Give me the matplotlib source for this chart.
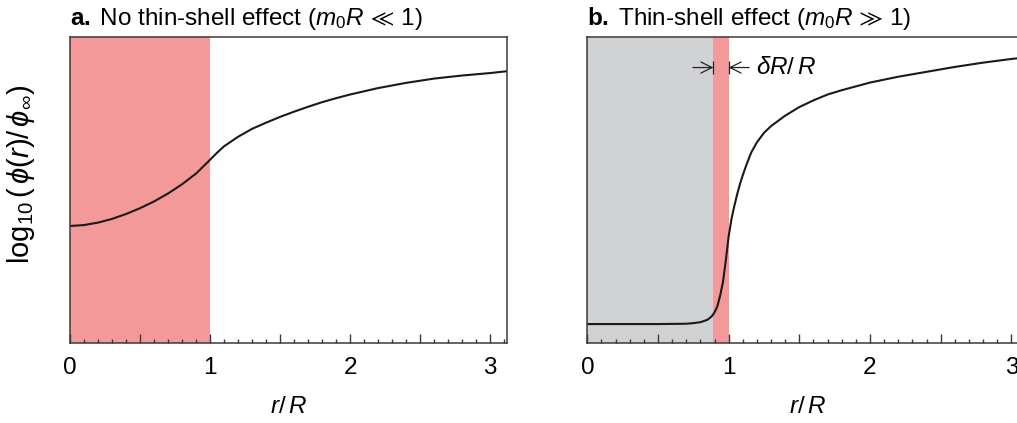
import matplotlib
matplotlib.use("Agg")
import matplotlib.pyplot as plt
from matplotlib.ticker import MultipleLocator, FuncFormatter

plt.rcParams['font.family'] = ['Liberation Sans', 'DejaVu Sans']
plt.rcParams['mathtext.fontset'] = 'custom'
plt.rcParams['mathtext.rm'] = 'Liberation Sans'
plt.rcParams['mathtext.it'] = 'Liberation Sans:italic'
plt.rcParams['mathtext.bf'] = 'Liberation Sans:bold'
plt.rcParams['mathtext.fallback'] = 'stixsans'

# values (y in axis fraction, r in units of R)
r_a = [0.0, 0.1, 0.2, 0.3, 0.4, 0.5, 0.6, 0.7, 0.8, 0.9, 1.0, 1.05, 1.1,
       1.2, 1.3, 1.4, 1.5, 1.6, 1.7, 1.8, 1.9, 2.0, 2.2, 2.4, 2.6, 2.8,
       3.0, 3.12]
phi_a = [0.382, 0.385, 0.393, 0.405, 0.421, 0.440, 0.462, 0.488, 0.518,
         0.553, 0.598, 0.621, 0.642, 0.673, 0.699, 0.719, 0.738, 0.755,
         0.771, 0.786, 0.799, 0.811, 0.832, 0.849, 0.863, 0.873, 0.881, 0.887]

r_b = [0.0, 0.5, 0.7, 0.75, 0.8, 0.85, 0.88, 0.9, 0.92, 0.94, 0.96, 0.98,
       1.0, 1.02, 1.04, 1.06, 1.08, 1.1, 1.13, 1.16, 1.2, 1.25, 1.3, 1.4,
       1.5, 1.6, 1.7, 1.8, 2.0, 2.2, 2.4, 2.6, 2.8, 3.0, 3.12]
phi_b = [0.062, 0.062, 0.063, 0.065, 0.068, 0.076, 0.087, 0.100, 0.120,
         0.155, 0.200, 0.270, 0.348, 0.405, 0.447, 0.485, 0.519, 0.548,
         0.587, 0.622, 0.655, 0.686, 0.708, 0.742, 0.770, 0.792, 0.811,
         0.825, 0.850, 0.869, 0.885, 0.901, 0.915, 0.927, 0.933]

shell_in = 0.892   # inner edge of the thin shell
pink = '#f4999a'
grey = '#d1d2d4'
spine_col = '#3a3a3a'
fs = 17.5

fig = plt.figure(figsize=(10.17, 4.23), dpi=100)
ax1 = fig.add_axes([0.0688, 0.189, 0.4297, 0.7245])
ax2 = fig.add_axes([0.5775, 0.189, 0.4336, 0.7245])

def style(ax):
    ax.set_xlim(0, 3.12)
    ax.set_ylim(0, 1)
    ax.set_yticks([])
    ax.xaxis.set_major_locator(MultipleLocator(0.5))
    ax.xaxis.set_minor_locator(MultipleLocator(0.1))
    ax.xaxis.set_major_formatter(FuncFormatter(
        lambda v, p: '%d' % round(v) if abs(v - round(v)) < 1e-6 else ''))
    ax.tick_params(axis='x', which='both', direction='in', color=spine_col,
                   labelsize=fs, pad=10)
    ax.tick_params(axis='x', which='major', length=6.5, width=1.0)
    ax.tick_params(axis='x', which='minor', length=3, width=1.0)
    for s in ax.spines.values():
        s.set_color(spine_col)
        s.set_linewidth(1.1)
    ax.set_xlabel(r'$r/\,R$', fontsize=fs, labelpad=12)

style(ax1)
style(ax2)

ax1.axvspan(0, 1, color=pink, lw=0, zorder=0)
ax1.plot(r_a, phi_a, color='#1a1a1a', lw=1.5)

ax2.axvspan(0, shell_in, color=grey, lw=0, zorder=0)
ax2.axvspan(shell_in, 1, color=pink, lw=0, zorder=0)
ax2.plot(r_b, phi_b, color='#1a1a1a', lw=1.5)

# thickness marker
ya = 0.899
arrow = dict(arrowstyle='->, head_length=0.5, head_width=0.25', color='#222222',
             lw=0.9, shrinkA=0, shrinkB=0, mutation_scale=16)
ax2.annotate('', xy=(shell_in, ya), xytext=(shell_in - 0.145, ya), arrowprops=arrow)
ax2.annotate('', xy=(1.0, ya), xytext=(1.0 + 0.145, ya), arrowprops=arrow)
ax2.vlines([shell_in, 1.0], ya - 0.02, ya + 0.02, color='#222222', lw=0.9)
ax2.text(1.19, ya, r'$\delta R/\,R$', fontsize=fs, va='center', ha='left')

ax1.text(0, 1.038, r'$\mathbf{a.}\;$No thin-shell effect ($m_0R\,\ll\,1$)',
         transform=ax1.transAxes, fontsize=fs, va='baseline', ha='left')
ax2.text(0, 1.038, r'$\mathbf{b.}\;$Thin-shell effect ($m_0R\,\gg\,1$)',
         transform=ax2.transAxes, fontsize=fs, va='baseline', ha='left')

ax1.set_ylabel(r'$\log_{10}(\,\phi(r)/\,\phi_\infty)$', fontsize=21)
ax1.yaxis.set_label_coords(-0.076, 0.55)

fig.savefig('out.png', dpi=100)
